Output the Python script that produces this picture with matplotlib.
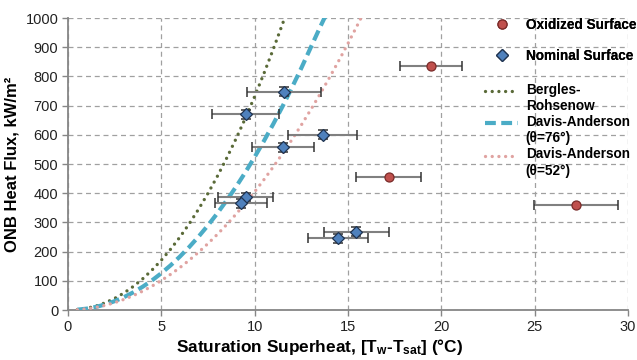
import numpy as np
import matplotlib
matplotlib.use('Agg')
import matplotlib.pyplot as plt
from matplotlib.lines import Line2D
from matplotlib.legend_handler import HandlerLine2D

plt.rcParams['font.family'] = ['Liberation Sans', 'DejaVu Sans']
plt.rcParams['mathtext.fontset'] = 'custom'
plt.rcParams['mathtext.bf'] = 'Liberation Sans:bold'

# measured ONB points
ox_x = [19.45, 17.18, 27.24]
ox_q = [835, 456, 358]
ox_xerr = [1.67, 1.75, 2.25]

nom_x = [11.57, 9.52, 13.65, 11.52, 9.52, 9.27, 15.45, 14.47]
nom_q = [748, 670, 600, 557, 387, 365, 268, 245]
nom_xerr = [1.98, 1.8, 1.85, 1.68, 1.46, 1.4, 1.72, 1.6]
nom_qerr = [15, 15, 15, 15, 15, 15, 15, 15]

# correlation curves
br_x = [0.5, 1, 1.5, 2, 2.5, 3, 3.5, 4, 4.5, 5, 5.5, 6, 6.5, 7, 7.5, 8,
        8.5, 9, 9.5, 10, 10.5, 11, 11.5, 12]
br_q = [1.4, 5.8, 13.6, 24.9, 39.8, 58.4, 80.7, 106.8, 136.8, 170.6, 208.4,
        250.2, 295.9, 345.8, 399.7, 457.8, 520, 586.3, 656.7, 731.3, 810.6,
        893.8, 981, 1072]

da76_x = [0.5, 1, 1.5, 2, 2.5, 3, 3.5, 4, 4.5, 5, 5.5, 6, 6.5, 7, 7.5, 8,
          8.5, 9, 9.5, 10, 10.5, 11, 11.5, 12, 12.5, 13, 13.5, 14]
da76_q = [1.1, 4.6, 10.6, 19.1, 30.3, 44.1, 60.5, 79.6, 101.4, 126, 153.2,
          183.3, 216.1, 251.7, 290, 331.2, 375.1, 421.8, 471.5, 524, 579.3,
          637.3, 698.1, 762.1, 828.5, 898.4, 968, 1035]

da52_x = [0.5, 1, 1.5, 2, 2.5, 3, 3.5, 4, 4.5, 5, 5.5, 6, 6.5, 7, 7.5, 8,
          8.5, 9, 9.5, 10, 10.5, 11, 11.5, 12, 12.5, 13, 13.5, 14, 14.5, 15,
          15.5, 16]
da52_q = [1.0, 4.0, 9.0, 16.1, 25.2, 36.3, 49.4, 64.6, 81.8, 101, 122.3,
          145.5, 170.9, 198.2, 227.6, 259, 292.5, 328, 365.6, 405.1, 446.7,
          490.4, 536.1, 583.7, 633.5, 685.4, 739.2, 795.1, 853, 912.9, 975,
          1039]

labels = ['Oxidized Surface', 'Nominal Surface', 'Bergles-\nRohsenow',
          'Davis-Anderson\n(\u03b8=76\u00b0)', 'Davis-Anderson\n(\u03b8=52\u00b0)']

c_ox, c_ox_e = '#c0504d', '#7a2b29'
c_nom, c_nom_e = '#4f81bd', '#1f3350'
c_br, c_76, c_52 = '#5a6a38', '#4bacc6', '#e0a3a1'

fig = plt.figure(figsize=(6.37, 3.6), dpi=100)
ax = fig.add_axes([68/637, 1-310/360, 560/637, 292/360])

ax.plot(br_x, br_q, color=c_br, lw=2.4, ls=(0, (0.01, 2.0)),
        dash_capstyle='round', zorder=3)
ax.plot(da76_x, da76_q, color=c_76, lw=3.0, ls=(0, (2.6, 1.3)), zorder=3)
ax.plot(da52_x, da52_q, color=c_52, lw=2.4, ls=(0, (0.01, 2.0)),
        dash_capstyle='round', zorder=3)

ax.errorbar(nom_x, nom_q, xerr=nom_xerr, fmt='none', ecolor='#808080',
            elinewidth=1.5, capsize=0, zorder=4)
ax.errorbar(nom_x, nom_q, xerr=nom_xerr, yerr=nom_qerr, fmt='none',
            ecolor='#333333', elinewidth=0, capsize=3.5, capthick=1.1, zorder=4)
ax.errorbar(nom_x, nom_q, yerr=nom_qerr, fmt='none', ecolor='#222222',
            elinewidth=1.1, capsize=0, zorder=4)
ax.plot(nom_x, nom_q, ls='none', marker='D', ms=6, mfc=c_nom, mec=c_nom_e,
        mew=0.9, zorder=5)

ax.errorbar(ox_x, ox_q, xerr=ox_xerr, fmt='none', ecolor='#808080',
            elinewidth=1.5, capsize=0, zorder=4)
ax.errorbar(ox_x, ox_q, xerr=ox_xerr, fmt='none', ecolor='#333333',
            elinewidth=0, capsize=3.5, capthick=1.1, zorder=4)
ax.plot(ox_x, ox_q, ls='none', marker='o', ms=6.5, mfc=c_ox, mec=c_ox_e,
        mew=0.9, zorder=5)

ax.set_xlim(0, 30)
ax.set_ylim(0, 1000)
ax.set_xticks(np.arange(0, 31, 5))
ax.set_yticks(np.arange(0, 1001, 100))
ax.grid(True, color='#a0a0a0', ls=(0, (4, 3)), lw=0.9, zorder=0)
ax.set_axisbelow(True)
for s in ['top', 'right']:
    ax.spines[s].set_visible(False)
for s in ['left', 'bottom']:
    ax.spines[s].set_color('#868686')
    ax.spines[s].set_linewidth(1.3)
ax.tick_params(length=4, width=1, color='#868686', labelsize=10.5,
               labelcolor='#222222', pad=3)

ax.set_xlabel(r'Saturation Superheat, [T$\mathbf{_{w}}$-T$\mathbf{_{sat}}$] (°C)',
              fontsize=12.4, fontweight='bold')
ax.xaxis.set_label_coords((319.5-68)/560, -0.092)
ax.set_ylabel('ONB Heat Flux, kW/m\u00b2', fontsize=12, fontweight='bold',
              labelpad=4)


class UpHandler(HandlerLine2D):
    # put the line sample beside the first text line
    def create_artists(self, legend, orig_handle, xdescent, ydescent,
                       width, height, fontsize, trans):
        arts = super().create_artists(legend, orig_handle, xdescent, ydescent,
                                      width, height, fontsize, trans)
        for a in arts:
            a.set_ydata(np.asarray(a.get_ydata()) + 0.56*fontsize)
        return arts


h1 = [Line2D([], [], ls='none', marker='o', ms=6.5, mfc=c_ox, mec=c_ox_e, mew=0.9),
      Line2D([], [], ls='none', marker='D', ms=6, mfc=c_nom, mec=c_nom_e, mew=0.9)]
h2 = [Line2D([], [], color=c_br, lw=2.4, ls=(0, (0.01, 2.0)), dash_capstyle='round'),
      Line2D([], [], color=c_76, lw=3.0, ls=(0, (2.6, 1.3))),
      Line2D([], [], color=c_52, lw=2.4, ls=(0, (0.01, 2.0)), dash_capstyle='round')]

prop = {'weight': 'bold', 'size': 9.8}
leg1 = fig.legend(h1, labels[:2], loc='upper left', bbox_to_anchor=(485/637, 1-18/360),
                  frameon=False, prop=prop, handlelength=2.45, handletextpad=0.55,
                  labelspacing=1.25, borderpad=0, borderaxespad=0)
leg2 = fig.legend(h2, labels[2:], loc='upper left', bbox_to_anchor=(485/637, 1-83/360),
                  frameon=False, prop=prop, handlelength=2.45, handletextpad=0.55,
                  labelspacing=0.15, borderpad=0, borderaxespad=0,
                  handler_map={Line2D: UpHandler()})
fig.add_artist(leg1)

fig.savefig('out.png', dpi=100)
